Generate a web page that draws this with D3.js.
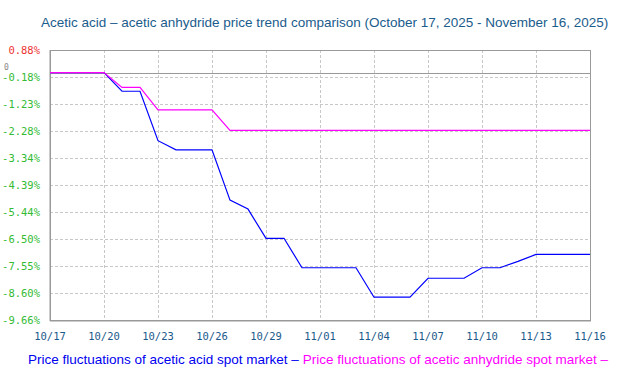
<!DOCTYPE html>
<html>
<head>
<meta charset="utf-8">
<script src="https://cdn.jsdelivr.net/npm/d3@7"></script>
<style>
html,body{margin:0;padding:0;background:#fff;}
svg{display:block;}
</style>
</head>
<body>
<svg id="chart" width="622" height="380"></svg>
<script>
const titleText = "Acetic acid \u2013 acetic anhydride price trend comparison (October 17, 2025 - November 16, 2025)";
const dates = ["10/17","10/18","10/19","10/20","10/21","10/22","10/23","10/24","10/25","10/26","10/27","10/28","10/29","10/30","10/31","11/01","11/02","11/03","11/04","11/05","11/06","11/07","11/08","11/09","11/10","11/11","11/12","11/13","11/14","11/15","11/16"];
const aceticAcid = [0,0,0,0,-0.73,-0.73,-2.66,-3.02,-3.02,-3.02,-4.98,-5.33,-6.47,-6.47,-7.62,-7.62,-7.62,-7.62,-8.77,-8.77,-8.77,-8.03,-8.03,-8.03,-7.62,-7.62,-7.37,-7.10,-7.10,-7.10,-7.10];
const aceticAnhydride = [0,0,0,0,-0.58,-0.58,-1.46,-1.46,-1.46,-1.46,-2.26,-2.26,-2.26,-2.26,-2.26,-2.26,-2.26,-2.26,-2.26,-2.26,-2.26,-2.26,-2.26,-2.26,-2.26,-2.26,-2.26,-2.26,-2.26,-2.26,-2.26];
const yTicks = [0.88,-0.18,-1.23,-2.28,-3.34,-4.39,-5.44,-6.50,-7.55,-8.60,-9.66];
const yTickLabels = ["0.88%","-0.18%","-1.23%","-2.28%","-3.34%","-4.39%","-5.44%","-6.50%","-7.55%","-8.60%","-9.66%"];
const xTickLabels = ["10/17","10/20","10/23","10/26","10/29","11/01","11/04","11/07","11/10","11/13","11/16"];
const legendNames = ["Price fluctuations of acetic acid spot market \u2013 ","Price fluctuations of acetic anhydride spot market \u2013"];

const svg = d3.select("#chart");
const L = 50, R = 590, T = 50, B = 320;

const x = d3.scalePoint().domain(dates).range([L, R]);
const y = d3.scaleLinear().domain([-9.66, 0.88]).range([B, T]);

// grid
const g = svg.append("g");
g.selectAll("line.h").data(yTicks.slice(1, -1)).enter().append("line")
  .attr("x1", L).attr("x2", R)
  .attr("y1", d => Math.round(y(d)) + 0.5).attr("y2", d => Math.round(y(d)) + 0.5)
  .attr("stroke", "#c8c8c8").attr("stroke-dasharray", "3,2");
g.selectAll("line.v").data(xTickLabels.slice(1, -1)).enter().append("line")
  .attr("y1", T).attr("y2", B)
  .attr("x1", d => Math.round(x(d)) + 0.5).attr("x2", d => Math.round(x(d)) + 0.5)
  .attr("stroke", "#c8c8c8").attr("stroke-dasharray", "3,2");

// zero line
svg.append("line").attr("x1", L).attr("x2", R)
  .attr("y1", Math.round(y(0)) + 0.5).attr("y2", Math.round(y(0)) + 0.5)
  .attr("stroke", "#999").attr("stroke-width", 1);

// frame
svg.append("rect").attr("x", L + 0.5).attr("y", T + 0.5)
  .attr("width", R - L).attr("height", B - T)
  .attr("fill", "none").attr("stroke", "#999").attr("stroke-width", 1);
svg.append("line").attr("x1", L).attr("x2", R + 1).attr("y1", B + 1).attr("y2", B + 1).attr("stroke", "#999");
svg.append("line").attr("x1", L).attr("x2", L).attr("y1", T).attr("y2", B + 1).attr("stroke", "#999");

// y labels
svg.selectAll("text.yl").data(yTicks).enter().append("text")
  .attr("x", 40).attr("y", d => y(d) + 4)
  .attr("text-anchor", "end")
  .attr("font-family", "DejaVu Sans Mono, monospace").attr("font-size", 10.5)
  .attr("fill", (d, i) => d > 0 ? "#ee3333" : "#33bb33")
  .text((d, i) => yTickLabels[i]);

svg.append("text").attr("x", 4).attr("y", y(0) - 3)
  .attr("font-family", "DejaVu Sans Mono, monospace").attr("font-size", 8)
  .attr("fill", "#888").text("0");

// x labels
svg.selectAll("text.xl").data(xTickLabels).enter().append("text")
  .attr("x", d => x(d)).attr("y", 340)
  .attr("text-anchor", "middle")
  .attr("font-family", "DejaVu Sans Mono, monospace").attr("font-size", 10.5)
  .attr("fill", "#1a5a8a")
  .text(d => d);

// lines
const line = d3.line().x((d, i) => x(dates[i])).y(d => y(d));
svg.append("path").datum(aceticAcid).attr("d", line)
  .attr("fill", "none").attr("stroke", "#0000ff").attr("stroke-width", 1.2);
svg.append("path").datum(aceticAnhydride).attr("d", line)
  .attr("fill", "none").attr("stroke", "#ff00ff").attr("stroke-width", 1.2);

// title
svg.append("text").attr("x", 41).attr("y", 27)
  .attr("font-family", "Liberation Sans, Arial, sans-serif").attr("font-size", 13.5)
  .attr("fill", "#1a5c8c").text(titleText);

// legend
const lg = svg.append("text").attr("x", 28).attr("y", 364)
  .attr("font-family", "Liberation Sans, Arial, sans-serif").attr("font-size", 13.5);
lg.append("tspan").attr("fill", "#0000ee").text(legendNames[0]);
lg.append("tspan").attr("fill", "#ff00ff").text(legendNames[1]);
</script>
</body>
</html>
